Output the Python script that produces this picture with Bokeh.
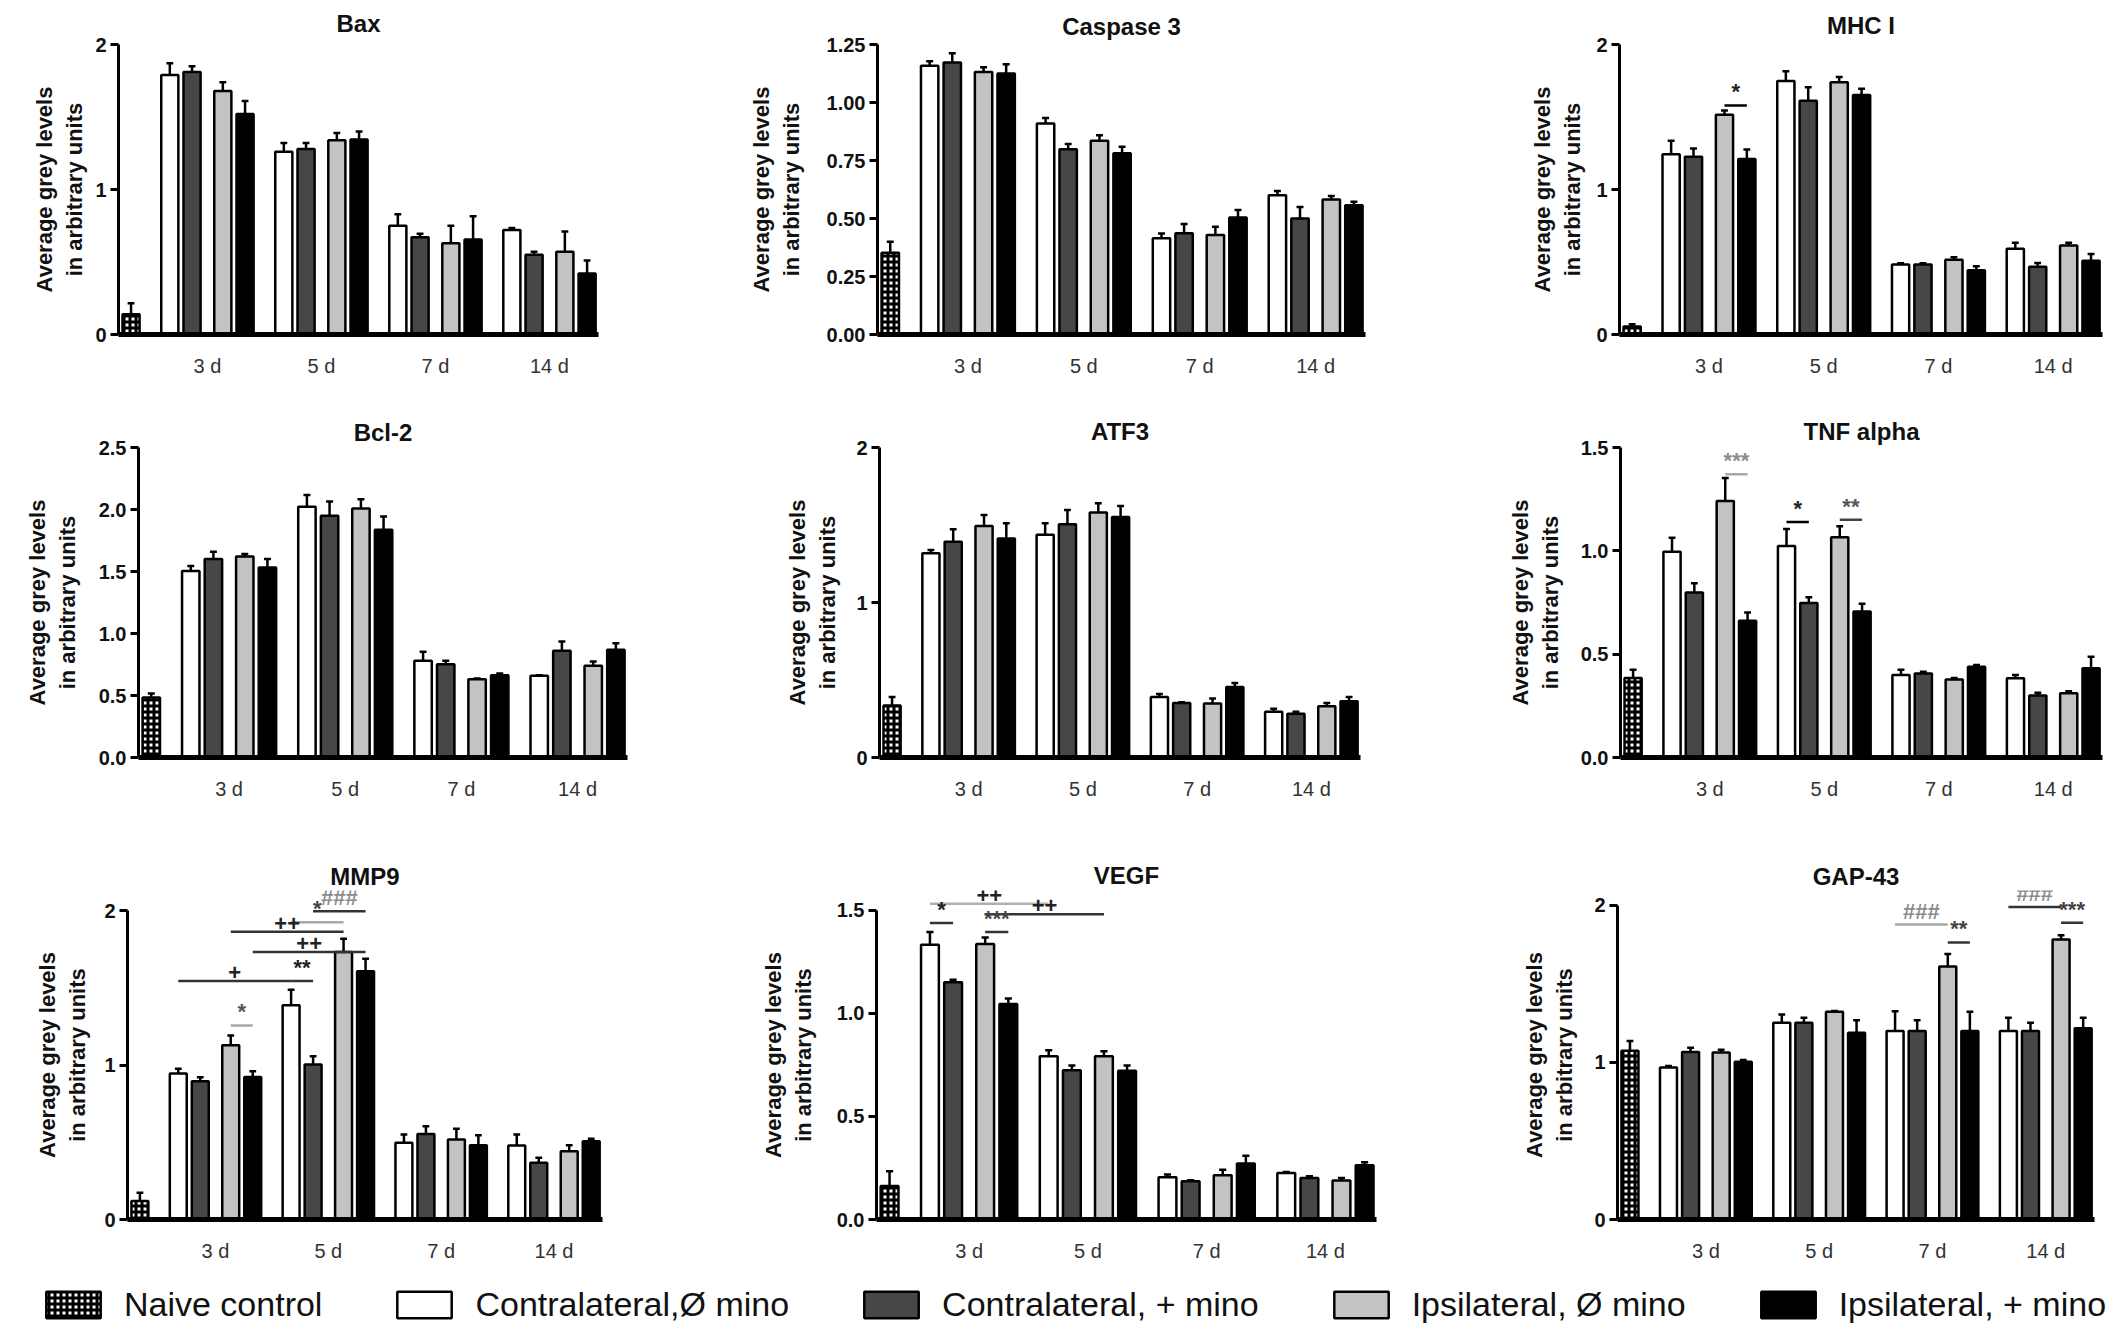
from bokeh.plotting import figure
from bokeh.layouts import column, row
from bokeh.models import (ColumnDataSource, Range1d, FixedTicker, NumeralTickFormatter,
                          Legend, LegendItem)
from bokeh.core.properties import value
from bokeh.embed import file_html
from bokeh.resources import INLINE

# ---------------- data ----------------
groups = ["3 d", "5 d", "7 d", "14 d"]
series = ["Contralateral,Ø mino", "Contralateral, + mino",
          "Ipsilateral, Ø mino", "Ipsilateral, + mino"]
naive_label = "Naive control"
ylabel = "Average grey levels\nin arbitrary units"

# each mean/err row is one time point: [contra -, contra +, ipsi -, ipsi +]
bax_naive = [0.14, 0.075]
bax_mean = [[1.79, 1.81, 1.68, 1.52], [1.26, 1.28, 1.34, 1.345],
            [0.75, 0.67, 0.63, 0.655], [0.72, 0.55, 0.57, 0.42]]
bax_err = [[0.08, 0.04, 0.06, 0.09], [0.06, 0.04, 0.05, 0.055],
           [0.08, 0.025, 0.12, 0.16], [0.015, 0.02, 0.14, 0.09]]

casp_naive = [0.352, 0.048]
casp_mean = [[1.158, 1.172, 1.132, 1.125], [0.909, 0.798, 0.835, 0.781],
             [0.415, 0.436, 0.429, 0.504], [0.60, 0.50, 0.582, 0.557]]
casp_err = [[0.02, 0.04, 0.02, 0.04], [0.024, 0.023, 0.024, 0.028],
            [0.02, 0.04, 0.035, 0.033], [0.018, 0.05, 0.015, 0.015]]

mhc_naive = [0.055, 0.015]
mhc_mean = [[1.243, 1.226, 1.515, 1.21], [1.748, 1.612, 1.739, 1.651],
            [0.482, 0.482, 0.515, 0.443], [0.592, 0.467, 0.614, 0.509]]
mhc_err = [[0.094, 0.057, 0.03, 0.066], [0.068, 0.094, 0.037, 0.044],
           [0.01, 0.01, 0.018, 0.028], [0.04, 0.026, 0.018, 0.046]]
mhc_notes = [(0, 2, 0, 3, 1.58, "*", "black", "#222222")]

bcl_naive = [0.484, 0.032]
bcl_mean = [[1.505, 1.60, 1.621, 1.532], [2.022, 1.949, 2.008, 1.836],
            [0.78, 0.753, 0.632, 0.664], [0.659, 0.86, 0.739, 0.868]]
bcl_err = [[0.04, 0.06, 0.02, 0.068], [0.094, 0.116, 0.075, 0.108],
           [0.072, 0.027, 0.005, 0.013], [0.005, 0.075, 0.035, 0.054]]

atf_naive = [0.335, 0.055]
atf_mean = [[1.317, 1.392, 1.494, 1.413], [1.437, 1.505, 1.58, 1.552],
            [0.39, 0.352, 0.348, 0.455], [0.295, 0.282, 0.331, 0.363]]
atf_err = [[0.021, 0.081, 0.07, 0.098], [0.075, 0.092, 0.06, 0.07],
           [0.02, 0.005, 0.032, 0.025], [0.02, 0.013, 0.021, 0.028]]

tnf_naive = [0.385, 0.04]
tnf_mean = [[0.996, 0.798, 1.241, 0.662], [1.023, 0.747, 1.066, 0.707],
            [0.399, 0.407, 0.377, 0.439], [0.383, 0.30, 0.311, 0.432]]
tnf_err = [[0.067, 0.045, 0.112, 0.04], [0.083, 0.028, 0.053, 0.037],
           [0.025, 0.008, 0.008, 0.009], [0.016, 0.013, 0.01, 0.055]]
tnf_notes = [(0, 2, 0, 3, 1.37, "***", "#a8a8a8", "#8c8c8c"),
             (1, 0, 1, 1, 1.14, "*", "black", "#222222"),
             (1, 2, 1, 3, 1.15, "**", "#444444", "#555555")]

mmp_naive = [0.119, 0.054]
mmp_mean = [[0.945, 0.895, 1.128, 0.923], [1.387, 1.003, 1.732, 1.607],
            [0.496, 0.554, 0.518, 0.481], [0.479, 0.367, 0.442, 0.507]]
mmp_err = [[0.03, 0.026, 0.063, 0.037], [0.10, 0.054, 0.085, 0.08],
           [0.054, 0.05, 0.069, 0.065], [0.071, 0.032, 0.039, 0.015]]
mmp_notes = [(0, 2, 0, 3, 1.256, "*", "#a8a8a8", "#555555"),
             (0, 0, 1, 0, 1.543, "+", "#333333", "#222222"),
             (1, 0, 1, 1, 1.543, "**", "#333333", "#222222"),
             (0, 3, 1, 3, 1.732, "++", "#333333", "#222222"),
             (0, 2, 1, 2, 1.862, "++", "#333333", "#222222"),
             (1, 0, 1, 2, 1.924, "*", "#a8a8a8", "#444444"),
             (1, 1, 1, 3, 1.995, "###", "#333333", "#8c8c8c")]

vegf_naive = [0.162, 0.072]
vegf_mean = [[1.333, 1.152, 1.337, 1.046], [0.792, 0.724, 0.792, 0.722],
             [0.205, 0.186, 0.215, 0.272], [0.226, 0.202, 0.189, 0.263]]
vegf_err = [[0.062, 0.012, 0.032, 0.026], [0.029, 0.024, 0.024, 0.026],
            [0.013, 0.004, 0.027, 0.038], [0.005, 0.008, 0.013, 0.015]]
vegf_notes = [(0, 0, 0, 1, 1.439, "*", "#333333", "#222222"),
              (0, 2, 0, 3, 1.395, "***", "#333333", "#444444"),
              (0, 0, 1, 0, 1.532, "++", "#b0b0b0", "#222222"),
              (0, 2, 1, 2, 1.482, "++", "#333333", "#222222")]

gap_naive = [1.074, 0.063]
gap_mean = [[0.968, 1.067, 1.063, 1.004], [1.253, 1.253, 1.322, 1.189],
            [1.20, 1.20, 1.611, 1.20], [1.20, 1.20, 1.783, 1.217]]
gap_err = [[0.01, 0.027, 0.017, 0.011], [0.052, 0.031, 0.005, 0.08],
           [0.126, 0.069, 0.08, 0.122], [0.084, 0.053, 0.027, 0.067]]
gap_notes = [(2, 0, 2, 2, 1.878, "###", "#a8a8a8", "#8c8c8c"),
             (2, 2, 2, 3, 1.764, "**", "#333333", "#444444"),
             (3, 0, 3, 2, 1.989, "###", "#333333", "#8c8c8c"),
             (3, 2, 3, 3, 1.89, "***", "#333333", "#444444")]

# ---------------- style ----------------
FONT = "Liberation Sans"
GROUP_X = [1, 2, 3, 4]
OFFSETS = [-0.33, -0.135, 0.135, 0.33]
NAIVE_X = 0.33
BAR_W = 0.15
CAP = 0.03
FILLS = ["#ffffff", "#474747", "#c3c3c3", "#000000"]
NAIVE_STYLE = dict(fill_color="white", hatch_pattern="cross", hatch_color="black",
                   hatch_scale=6, hatch_weight=3)


def bar_x(g, s):
    return GROUP_X[g] + OFFSETS[s]


def make_panel(title, ytop, ticks, fmt, naive, means, errs, notes, spec):
    w, h, bl, br, axis_top, zero, frame_top, tgap, lgap = spec
    y_end = ytop * (zero - frame_top) / (zero - axis_top)
    p = figure(width=w, height=h, output_backend="svg", toolbar_location=None,
               x_range=Range1d(0.22, 4.43), y_range=Range1d(0, y_end),
               min_border_left=bl, min_border_right=br, min_border_top=frame_top,
               min_border_bottom=h - zero, title=title)
    p.grid.visible = False
    p.outline_line_color = None

    p.title.align = "center"
    p.title.text_font = FONT
    p.title.text_font_size = "24px"
    p.title.text_font_style = "bold"
    p.title.text_color = "#111111"
    p.title.standoff = tgap

    # bars
    p.vbar(x=[NAIVE_X], top=[naive[0]], width=BAR_W, line_color="black",
           line_width=2.5, **NAIVE_STYLE)
    for s in range(4):
        p.vbar(x=[bar_x(g, s) for g in range(4)], top=[means[g][s] for g in range(4)],
               width=BAR_W, fill_color=FILLS[s], line_color="black", line_width=2.5)

    # error bars (upper only)
    xs, tops, ups = [NAIVE_X], [naive[0]], [naive[0] + naive[1]]
    for g in range(4):
        for s in range(4):
            xs.append(bar_x(g, s))
            tops.append(means[g][s])
            ups.append(means[g][s] + errs[g][s])
    esrc = ColumnDataSource(dict(x=xs, top=tops, up=ups,
                                 cl=[x - CAP for x in xs], cr=[x + CAP for x in xs]))
    p.segment(x0="x", y0="top", x1="x", y1="up", source=esrc, line_color="black", line_width=2.5)
    p.segment(x0="cl", y0="up", x1="cr", y1="up", source=esrc, line_color="black", line_width=2.5)

    # significance marks
    if notes:
        nsrc = ColumnDataSource(dict(
            x0=[bar_x(n[0], n[1]) for n in notes], x1=[bar_x(n[2], n[3]) for n in notes],
            xm=[(bar_x(n[0], n[1]) + bar_x(n[2], n[3])) / 2 for n in notes],
            y=[n[4] for n in notes], label=[n[5] for n in notes],
            lc=[n[6] for n in notes], tc=[n[7] for n in notes]))
        p.segment(x0="x0", y0="y", x1="x1", y1="y", source=nsrc, line_color="lc", line_width=2.5)
        p.text(x="xm", y="y", text="label", source=nsrc, text_color="tc", text_align="center",
               text_baseline="bottom", y_offset=-1, text_font=value(FONT),
               text_font_size="22px", text_font_style="bold")

    # x axis
    p.xaxis.ticker = FixedTicker(ticks=GROUP_X)
    p.xaxis.major_label_overrides = {gx: g for gx, g in zip(GROUP_X, groups)}
    p.xaxis.axis_line_width = 5
    p.xaxis.axis_line_color = "black"
    p.xaxis.major_tick_line_color = None
    p.xaxis.minor_tick_line_color = None
    p.xaxis.major_label_standoff = 14
    p.xaxis.major_label_text_font = FONT
    p.xaxis.major_label_text_font_size = "20px"
    p.xaxis.major_label_text_color = "#333333"

    # y axis
    p.yaxis.ticker = FixedTicker(ticks=ticks)
    p.yaxis.formatter = NumeralTickFormatter(format=fmt)
    p.yaxis.bounds = (0, ytop)
    p.yaxis.axis_line_width = 3
    p.yaxis.axis_line_color = "black"
    p.yaxis.major_tick_line_width = 3
    p.yaxis.major_tick_out = 8
    p.yaxis.major_tick_in = 0
    p.yaxis.minor_tick_line_color = None
    p.yaxis.major_label_standoff = 4
    p.yaxis.major_label_text_font = FONT
    p.yaxis.major_label_text_font_size = "20px"
    p.yaxis.major_label_text_font_style = "bold"
    p.yaxis.major_label_text_color = "#111111"
    p.yaxis.axis_label = ylabel
    p.yaxis.axis_label_text_font = FONT
    p.yaxis.axis_label_text_font_size = "22px"
    p.yaxis.axis_label_text_font_style = "bold"
    p.yaxis.axis_label_text_color = "#111111"
    p.yaxis.axis_label_standoff = lgap
    return p


# spec: width, height, border left, border right, axis top px, zero px, frame top px,
#       title standoff, axis label standoff
bax = make_panel("Bax", 2, [0, 1, 2], "0", bax_naive, bax_mean, bax_err, None,
                 (692, 390, 118, 94, 40, 335, 40, 15, 5))
casp = make_panel("Caspase 3", 1.25, [0, 0.25, 0.5, 0.75, 1.0, 1.25], "0.00",
                  casp_naive, casp_mean, casp_err, None,
                  (705, 390, 185, 32, 40, 334, 40, 10, 20))
mhc = make_panel("MHC I", 2, [0, 1, 2], "0", mhc_naive, mhc_mean, mhc_err, mhc_notes,
                 (713, 390, 222, 8, 35, 339, 35, 12, 8))

bcl = make_panel("Bcl-2", 2.5, [0, 0.5, 1.0, 1.5, 2.0, 2.5], "0.0", bcl_naive, bcl_mean,
                 bcl_err, None, (692, 440, 138, 65, 57, 367, 57, 4, 16))
atf = make_panel("ATF3", 2, [0, 1, 2], "0", atf_naive, atf_mean, atf_err, None,
                 (705, 440, 187, 37, 55, 367, 55, 6, 13))
tnf = make_panel("TNF alpha", 1.5, [0, 0.5, 1.0, 1.5], "0.0", tnf_naive, tnf_mean, tnf_err,
                 tnf_notes, (713, 440, 223, 8, 55, 368, 55, 6, 15))

mmp = make_panel("MMP9", 2, [0, 1, 2], "0", mmp_naive, mmp_mean, mmp_err, mmp_notes,
                 (692, 434, 127, 90, 80, 389, 60, 2, 11))
vegf = make_panel("VEGF", 1.5, [0, 0.5, 1.0, 1.5], "0.0", vegf_naive, vegf_mean, vegf_err,
                  vegf_notes, (705, 434, 184, 21, 79, 389, 59, 4, 18))
gap = make_panel("GAP-43", 2, [0, 1, 2], "0", gap_naive, gap_mean, gap_err, gap_notes,
                 (713, 434, 220, 16, 72, 389, 57, 2, 14))

# ---------------- legend strip ----------------
leg = figure(width=2110, height=64, output_backend="svg", toolbar_location=None,
             x_range=Range1d(0, 1), y_range=Range1d(0, 1), min_border=0,
             x_axis_location=None, y_axis_location=None)
leg.grid.visible = False
leg.outline_line_color = None


def no_bar():
    # NaN bar: nothing is drawn, but the legend still gets a glyph
    return ColumnDataSource(dict(x=[float("nan")], top=[float("nan")]))


r_naive = leg.vbar(x="x", top="top", width=0.1, source=no_bar(), line_color="black",
                   line_width=2.5, **NAIVE_STYLE)
items = [LegendItem(label=naive_label, renderers=[r_naive])]
for s, name in enumerate(series):
    r = leg.vbar(x="x", top="top", width=0.1, source=no_bar(), fill_color=FILLS[s],
                 line_color="black", line_width=2.5)
    items.append(LegendItem(label=name, renderers=[r]))

legend = Legend(items=items, orientation="horizontal", location=(39, 4),
                glyph_width=68, glyph_height=33, label_standoff=17, spacing=68,
                padding=0, margin=0, border_line_color=None, background_fill_alpha=0,
                label_text_font=FONT, label_text_font_size="34px",
                label_text_color="#111111")
leg.add_layout(legend, "center")

layout = column(row(bax, casp, mhc), row(bcl, atf, tnf), row(mmp, vegf, gap), leg)

open("out.html", "w").write(file_html(layout, INLINE))
